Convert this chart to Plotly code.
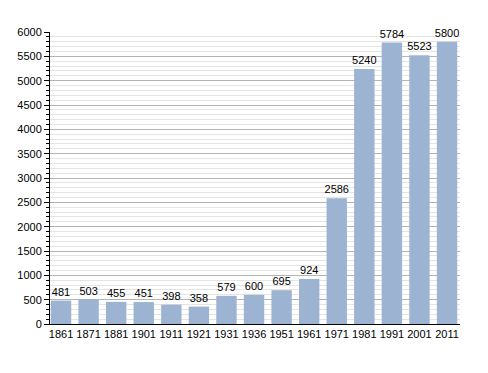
import plotly.graph_objects as go

years = ["1861", "1871", "1881", "1901", "1911", "1921", "1931", "1936", "1951", "1961", "1971", "1981", "1991", "2001", "2011"]
population = [481, 503, 455, 451, 398, 358, 579, 600, 695, 924, 2586, 5240, 5784, 5523, 5800]

fig = go.Figure(go.Bar(
    x=years, y=population,
    marker=dict(color="#9cb4d2", line=dict(width=0)),
    text=[str(v) for v in population], textposition="outside",
    textfont=dict(family="Liberation Sans, Arial", size=11, color="#000"),
    constraintext="none",
    cliponaxis=False,
))
fig.update_layout(
    width=480, height=365,
    margin=dict(l=42, r=28, t=24, b=49, autoexpand=False),
    paper_bgcolor="white", plot_bgcolor="white",
    bargap=0.26,
    showlegend=False,
    font=dict(family="Liberation Sans, Arial", size=11, color="#000"),
)
fig.update_xaxes(type="category", range=[-0.4, 14.47], showline=True, linecolor="#000", linewidth=1, automargin=False,
                 ticks="", showgrid=False, tickfont=dict(size=11))
fig.update_yaxes(range=[0, 6000], dtick=500, showgrid=True, gridcolor="#b4b4b4", gridwidth=1,
                 showline=True, linecolor="#000", linewidth=1, automargin=False,
                 ticks="outside", ticklen=5, tickcolor="#000",
                 minor=dict(dtick=100, showgrid=True, gridcolor="#e4e4e4", ticks="outside", ticklen=3, tickcolor="#000"),
                 zeroline=False, tickfont=dict(size=11))
fig.write_html("out.html")
